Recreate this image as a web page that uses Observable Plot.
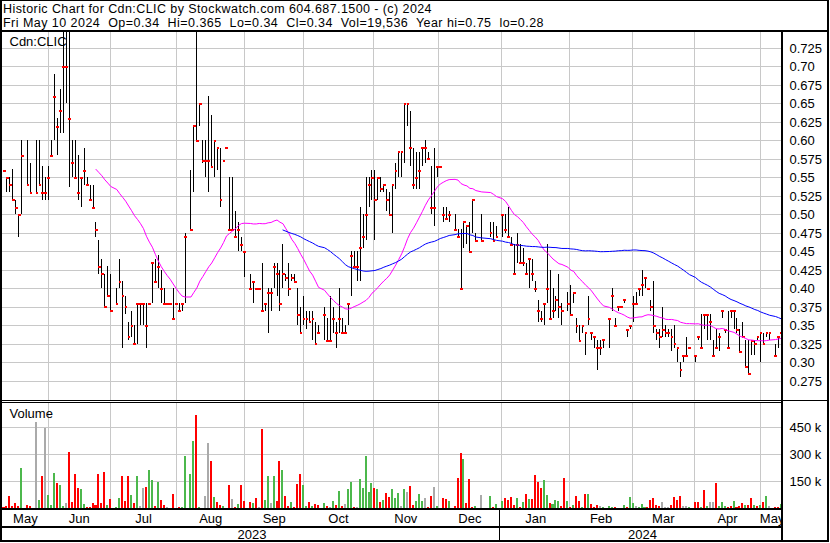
<!DOCTYPE html>
<html>
<head>
<meta charset="utf-8">
<script src="https://cdn.jsdelivr.net/npm/d3@7"></script>
<script src="https://cdn.jsdelivr.net/npm/@observablehq/plot@0.6"></script>
<style>
  html, body { margin: 0; padding: 0; background: #fff; }
  #chart { position: relative; width: 830px; height: 543px; background: #fff; overflow: hidden;
           font-family: "Liberation Sans", Arial, sans-serif; color: #000; }
  .ln { position: absolute; background: #000; }
  .tx { position: absolute; white-space: pre; font-size: 12.5px; line-height: 12.5px; }
  .pl { position: absolute; }
  .pl svg { display: block; }
</style>
</head>
<body>
<div id="chart"></div>
<script>
// ---------------- data ----------------
const titleLine1 = "Historic Chart for Cdn:CLIC by Stockwatch.com 604.687.1500 - (c) 2024";
const titleLine2 = "Fri May 10 2024  Op=0.34  Hi=0.365  Lo=0.34  Cl=0.34  Vol=19,536  Year hi=0.75  lo=0.28";
const symbolLabel = "Cdn:CLIC";
const volumeLabel = "Volume";

// one entry per weekday, 10 May 2023 .. 10 May 2024 (null = no trade)
const high = [
 .56,.55,.55,.562,.52,.50,.60,null,.60,.57,
 null,.60,.60,.565,.55,.565,.60,.69,.631,.67,
 .75,.75,.75,.60,.60,.58,.55,.59,.55,.54,
 .54,.49,.465,.44,.42,.43,.42,null,.40,.44,
 .41,.39,.355,.37,.35,.38,.38,.38,.38,.38,
 .435,.44,.445,.425,.40,.38,.38,.40,.38,.38,
 .38,.475,null,.56,.62,.75,.65,.60,.60,.66,
 .635,.60,.59,.59,.573,.59,.55,.55,.505,.49,
 .47,.45,null,.42,.41,.40,.40,.435,.38,.40,
 .40,.435,.435,.425,.46,.42,.435,.42,.42,.40,
 .375,.39,.37,.37,.37,.355,.35,null,.375,.36,
 .39,.375,.355,.40,.36,.35,.38,.45,.45,.45,
 .51,.50,.55,.55,.56,.56,.55,.55,.54,.535,
 .53,.54,.57,.585,.585,.65,.65,.64,.59,.585,
 .585,.59,.60,.585,.565,.59,.565,.565,.51,.51,
 .505,null,.50,.48,.48,.49,.485,.49,.52,.475,
 null,.50,null,null,.49,.49,.485,null,.50,.50,
 .51,.47,.46,.475,.46,.455,.435,.44,.44,.41,
 .385,.37,.38,.46,.425,.40,.39,.42,.38,null,
 .395,.405,.395,.36,.35,.35,.34,.39,.34,.335,
 .33,.33,.331,null,.36,.40,.36,.375,.375,.385,
 .345,.35,.39,.395,.40,.425,.415,.40,.385,.41,
 .345,.345,.375,.35,.345,.345,.35,.32,.30,.31,
 .335,.32,null,.31,.335,.365,.365,.365,.365,.33,
 .345,.34,.37,.345,.37,.37,.37,.36,.345,.355,
 .33,.33,.33,.33,.335,.34,.34,.34,.34,null,
 .325,.335,.365
];
const low = [
 .56,.53,.53,.52,.50,.47,.50,null,.54,.53,
 null,.53,.54,.52,.52,.52,.58,.60,.58,.61,
 .61,.65,.537,.55,.55,.52,.51,.54,.54,.52,
 .51,.47,.42,.40,.375,.39,.37,null,.38,.40,
 .32,.365,.33,.335,.325,.325,.35,.35,.32,.38,
 .38,.41,.40,.38,.38,.38,.38,.36,.38,.37,
 .37,.38,null,.48,.53,.60,.62,.57,.55,.53,
 .565,.55,.56,.51,.573,.59,.48,.48,.47,.45,
 .45,.415,null,.40,.38,.40,.40,.37,.37,.34,
 .37,.40,.39,.37,.40,.41,.39,.41,.41,.35,
 .34,.35,.345,.355,.33,.325,.34,null,.33,.33,
 .33,.34,.32,.34,.34,.34,.35,.39,.43,.41,
 .41,.455,.465,.51,.52,.465,.52,.53,.53,.505,
 .50,.475,.535,.55,.55,.57,.62,.565,.535,.535,
 .535,.565,.57,.575,.50,.485,.55,.565,.49,.495,
 .49,null,.48,.47,.40,.455,.46,.45,.475,.465,
 null,.465,null,null,.47,.465,.47,null,.47,.475,
 .47,.46,.42,.435,.435,.43,.42,.40,.41,.395,
 .355,.355,.35,.38,.36,.36,.37,.36,.35,null,
 .37,.365,.38,.34,.33,.34,.31,.35,.33,.32,
 .29,.31,.32,null,.32,.37,.35,.37,.375,.38,
 .335,.345,.355,.38,.39,.39,.40,.40,.37,.34,
 .33,.32,.335,.335,.335,.315,.32,.30,.28,.30,
 .31,.32,null,.30,.33,.32,.345,.33,.33,.31,
 .32,.315,.36,.34,.32,.36,.345,.34,.315,.335,
 .295,.285,.31,.31,.33,.30,.325,.335,.33,null,
 .31,.32,.34
];
const close = [
 .56,.55,.54,.52,.51,.50,.58,null,.54,.53,
 null,.53,.54,.53,.53,.55,.58,.66,.619,.64,
 .70,.70,.63,.57,.55,.53,.55,.56,.54,.52,
 .51,.48,.43,.42,.375,.39,.37,null,.38,.41,
 .39,.375,.335,.35,.325,.38,.38,.38,.35,.38,
 .435,.41,.43,.40,.38,.38,.38,.36,.38,.37,
 .38,.47,null,.48,.62,.60,.65,.573,.573,.573,
 .565,.60,.59,.52,.573,.59,.48,.48,.47,.48,
 .46,.45,null,.40,.41,.40,.40,.37,.38,.395,
 .395,.43,.42,.38,.42,.415,.40,.415,.41,.365,
 .34,.36,.36,.355,.36,.325,.34,null,.365,.33,
 .33,.36,.34,.36,.34,.34,.38,.445,.43,.43,
 .455,.47,.50,.54,.55,.52,.55,.535,.54,.52,
 .50,.54,.56,.585,.585,.65,.65,.59,.54,.55,
 .56,.59,.59,.575,.51,.51,.565,.565,.50,.495,
 .50,null,.48,.47,.40,.49,.485,.45,.52,.465,
 null,.465,null,null,.475,.465,.47,null,.50,.48,
 .47,.46,.42,.46,.435,.435,.42,.44,.42,.40,
 .37,.36,.38,.40,.36,.37,.385,.375,.37,null,
 .38,.365,.395,.35,.33,.35,.34,.36,.34,.335,
 .32,.32,.331,null,.36,.39,.35,.375,.375,.385,
 .345,.35,.38,.38,.40,.405,.415,.40,.375,.35,
 .34,.335,.345,.34,.34,.335,.325,.32,.29,.31,
 .31,.32,null,.31,.335,.32,.365,.365,.355,.31,
 .32,.335,.37,.345,.32,.37,.37,.345,.315,.335,
 .295,.285,.33,.325,.335,.34,.325,.34,.34,null,
 .31,.335,.34
];
// daily volume, thousands of shares
const volume = [
 5,9,66,9,26,9,220,0,14,9,
 0,476,43,176,447,72,14,193,141,130,
 9,26,309,32,187,112,107,20,5,5,
 26,14,187,26,199,14,49,0,3,55,
 176,37,176,72,26,176,12,112,118,210,
 153,9,147,43,14,3,2,78,2,3,
 3,291,0,187,372,516,3,2,66,360,
 263,61,32,14,9,2,130,49,3,20,
 130,37,0,32,26,55,3,441,43,176,
 26,176,37,263,210,66,9,32,3,136,
 187,130,9,32,9,20,14,0,26,9,
 3,37,14,95,9,20,107,147,3,3,
 159,112,291,89,141,112,107,32,43,84,
 61,107,55,84,9,107,89,124,14,40,
 78,37,55,3,66,118,9,2,55,49,
 37,0,9,164,303,274,26,159,3,9,
 0,72,0,0,66,3,20,0,37,55,
 43,61,14,55,3,32,78,49,49,182,
 147,112,153,72,26,20,43,37,9,164,
 37,3,14,66,37,3,78,78,20,3,
 14,9,3,0,9,3,3,2,2,14,
 3,61,26,9,3,20,3,3,43,55,
 14,9,32,3,3,14,61,43,66,9,
 9,3,0,32,32,3,101,9,32,32,
 141,9,32,9,3,9,37,3,9,26,
 14,14,55,14,9,14,32,66,9,0,
 3,3,20
];
// r = down day, g = up day, n = unchanged
const volumeDirection =
 "rrrrrrgnrr" + "nngrngggrg" + "gnrrrrggrr" + "rrrrrgrngg" + "rrrgrgnnrg" +
 "grgrrnnrgr" + "ggnggrgrnn" + "rgrrgnrnrg" + "rrnrgrnrgg" + "ngrrgrrgrr" +
 "rggrgrrngr" + "ngrgrnggrn" + "gggggrgrgr" + "rgggngnrrg" + "ggnrrngnrr" +
 "gnrrrgrrrg" + "nnnngrgngr" + "rrrgrgrgrr" + "rrggrgggrr" + "grgrrgrgrr" +
 "rngnggrnng" + "rggngggrrr" + "rrnnnrrrrn" + "ngnrrgrgnn" + "rgggrrgrrr" +
 "grrgrgrgnn" + "rrg";

// month boundaries (weekday index) and labels
const monthStarts = [14.9, 35.8, 58.2, 81.1, 101.0, 124.4, 146.4, 167.6, 190.7, 211.7, 232.6, 255.0];
const monthNames = ["May","Jun","Jul","Aug","Sep","Oct","Nov","Dec","Jan","Feb","Mar","Apr","May"];
const yearStarts = [167.6];
const yearNames = ["2023","2024"];

const priceTicks = [0.275,0.30,0.325,0.35,0.375,0.40,0.425,0.45,0.475,0.50,0.525,0.55,0.575,0.60,0.625,0.65,0.675,0.70,0.725];
const priceTickLabels = ["0.275","0.30","0.325","0.35","0.375","0.40","0.425","0.45","0.475","0.50","0.525","0.55","0.575","0.60","0.625","0.65","0.675","0.70","0.725"];
const volumeTicks = [150, 300, 450];
const volumeTickLabels = ["150 k","300 k","450 k"];

const shortMA = 30, longMA = 90;

// ---------------- build ----------------
const N = close.length;
const xDomain = [-0.507, 262.67];
const GRID = "#c8c8c8";
const FONT = "'Liberation Sans', Arial, sans-serif";
const colorOf = {r: "#ff0000", g: "#4cb84c", n: "#aaaaaa"};

const rows = d3.range(N).map(i => ({i, high: high[i], low: low[i], close: close[i]})).filter(d => d.close != null);
const vrows = d3.range(N).map(i => ({i, v: volume[i], dir: volumeDirection[i]})).filter(d => d.v > 0);

function movingAverage(k) {
  const out = [], win = [];
  close.forEach((c, i) => {
    if (c == null) return;
    win.push(c); if (win.length > k) win.shift();
    if (win.length === k) out.push({i, v: d3.mean(win)});
  });
  return out;
}
const maShort = movingAverage(shortMA);
const maLong = movingAverage(longMA);

const bounds = [xDomain[0], ...monthStarts, xDomain[1]];
const monthRows = monthNames.map((name, k) => ({name, mid: (bounds[k] + bounds[k + 1]) / 2}));
const ybounds = [xDomain[0], ...yearStarts, xDomain[1]];
const yearRows = yearNames.map((name, k) => ({name, mid: (ybounds[k] + ybounds[k + 1]) / 2}));

const chart = document.getElementById("chart");
function place(el, left, top) {
  const w = document.createElement("div");
  w.className = "pl"; w.style.left = left + "px"; w.style.top = top + "px";
  w.appendChild(el); chart.appendChild(w);
}
function line(l, t, w, h) {
  const d = document.createElement("div");
  d.className = "ln";
  Object.assign(d.style, {left: l + "px", top: t + "px", width: w + "px", height: h + "px"});
  chart.appendChild(d);
}
function text(s, l, t, targetWidth) {
  const d = document.createElement("div");
  d.className = "tx"; d.textContent = s;
  d.style.left = l + "px"; d.style.top = t + "px";
  chart.appendChild(d);
  const w = d.getBoundingClientRect().width;
  d.style.letterSpacing = ((targetWidth - w) / s.length) + "px";
}

const common = {
  width: 827, marginLeft: 0, marginRight: 46, marginTop: 0, marginBottom: 0,
  x: {domain: xDomain, axis: null},
  style: {fontFamily: FONT, fontSize: "13px", background: "none", color: "#000", overflow: "visible"}
};

// price panel
const pricePlot = Plot.plot({
  ...common, height: 368,
  y: {domain: [0.24932, 0.74662], axis: null},
  marks: [
    Plot.ruleY(priceTicks, {stroke: GRID, shapeRendering: "crispEdges"}),
    Plot.ruleX(monthStarts, {stroke: GRID, shapeRendering: "crispEdges"}),
    Plot.text([symbolLabel], {frameAnchor: "top-left", textAnchor: "start", lineAnchor: "top", dx: 7, dy: 4, fontSize: 13, fill: "#000"}),
    Plot.ruleX(rows, {x: "i", y1: "low", y2: "high", stroke: "#000", strokeWidth: 1, shapeRendering: "crispEdges", clip: true}),
    Plot.ruleY(rows, {y: "close", x1: d => d.i - 0.2, x2: d => d.i + 0.75, stroke: "#ff0000", strokeWidth: 2, shapeRendering: "crispEdges", clip: true}),
    Plot.line(maShort, {x: "i", y: "v", stroke: "#ff00ff", strokeWidth: 1, clip: true}),
    Plot.line(maLong, {x: "i", y: "v", stroke: "#0000ff", strokeWidth: 1, clip: true}),
    Plot.text(priceTicks, {y: d => d, frameAnchor: "right", text: (d, k) => priceTickLabels[k], textAnchor: "start", dx: 6, fontSize: 13, fill: "#000"})
  ]
});
place(pricePlot, 2, 32);

// volume panel
const volPlot = Plot.plot({
  ...common, height: 105,
  y: {domain: [0, 583.3], axis: null},
  marks: [
    Plot.ruleY(volumeTicks, {stroke: GRID, shapeRendering: "crispEdges"}),
    Plot.ruleX(monthStarts, {stroke: GRID, shapeRendering: "crispEdges"}),
    Plot.text([volumeLabel], {frameAnchor: "top-left", textAnchor: "start", lineAnchor: "top", dx: 7, dy: 5, fontSize: 13, fill: "#000"}),
    Plot.rectY(vrows, {x1: d => d.i - 0.34, x2: d => d.i + 0.34, y: "v", fill: d => colorOf[d.dir], shapeRendering: "crispEdges", clip: true}),
    Plot.text(volumeTicks, {y: d => d, frameAnchor: "right", text: (d, k) => volumeTickLabels[k], textAnchor: "start", dx: 6, fontSize: 13, fill: "#000"})
  ]
});
place(volPlot, 2, 403);

// month row
const monthPlot = Plot.plot({
  ...common, height: 16,
  marks: [Plot.text(monthRows, {x: "mid", text: "name", frameAnchor: "middle", fontSize: 13, fill: "#000", clip: true})]
});
place(monthPlot, 2, 510);

// year row
const yearPlot = Plot.plot({
  ...common, height: 13,
  marks: [Plot.text(yearRows, {x: "mid", text: "name", frameAnchor: "middle", fontSize: 13, fill: "#000", clip: true})]
});
place(yearPlot, 2, 528);

// titles
text(titleLine1, 3, 3.2, 429);
text(titleLine2, 3, 17.2, 541);

// frame lines
line(0, 0, 829, 1);
line(0, 0, 2, 542);
line(827, 0, 2, 542);
line(0, 30, 829, 2);
line(781, 32, 2, 510);
line(0, 400, 781, 1);
line(0, 402, 781, 1);
line(783, 400, 44, 1);
line(0, 508, 781, 2);
line(0, 526, 781, 2);
line(0, 540, 829, 2);
line(499, 510, 1, 30);
</script>
</body>
</html>
